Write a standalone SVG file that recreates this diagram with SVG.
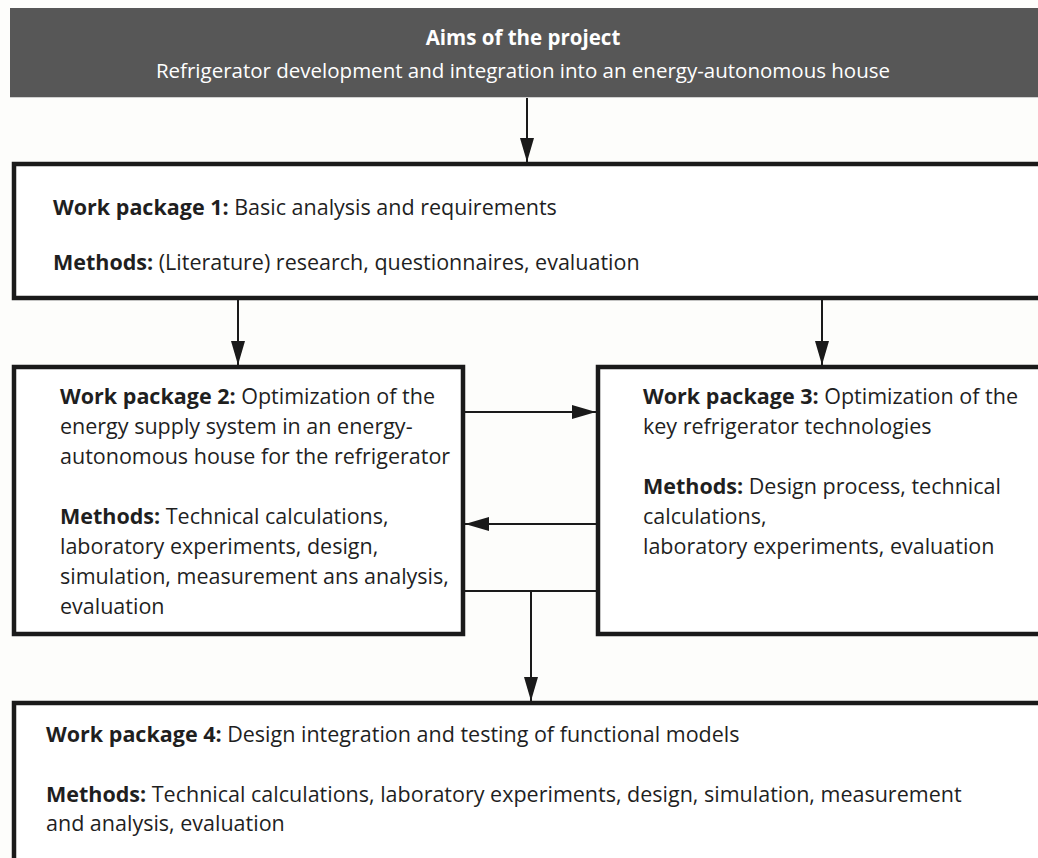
<svg xmlns="http://www.w3.org/2000/svg" width="1038" height="858" viewBox="0 0 1038 858">
  <style>
    .box { fill: #ffffff; stroke: #1a1a1a; stroke-width: 4.5; }
    .txt { font-family: "Open Sans", "Liberation Sans", sans-serif; font-size: 21.5px; fill: #1f1f1f; }
    .b { font-weight: bold; }
    .head { font-family: "Open Sans", "Liberation Sans", sans-serif; font-size: 20.5px; fill: #ffffff; text-anchor: middle; }
    .conn { stroke: #1a1a1a; stroke-width: 2; fill: none; }
  </style>
  <defs>
    <marker id="arrow" markerUnits="userSpaceOnUse" markerWidth="24" markerHeight="14" refX="24" refY="7" orient="auto">
      <path d="M0,0 L24,7 L0,14 Z" fill="#1a1a1a"/>
    </marker>
  </defs>

  <rect x="0" y="0" width="1038" height="858" fill="#fdfdfb"/>

  <!-- Project aims banner -->
  <g id="aims">
    <rect x="10" y="8" width="1028" height="89" fill="#575757"/>
    <line x1="10" y1="97.5" x2="1038" y2="97.5" stroke="#d0d0d0" stroke-width="1"/>
    <text class="head b" x="523" y="45">Aims of the project</text>
    <text class="head" x="523" y="78">Refrigerator development and integration into an energy-autonomous house</text>
  </g>

  <!-- Work package 1 -->
  <g id="wp1">
    <rect class="box" x="14" y="164" width="1040" height="134"/>
    <text class="txt" x="53" y="215"><tspan class="b">Work package 1:</tspan> Basic analysis and requirements</text>
    <text class="txt" x="53" y="270"><tspan class="b">Methods:</tspan> (Literature) research, questionnaires, evaluation</text>
  </g>

  <!-- Work package 2 -->
  <g id="wp2">
    <rect class="box" x="14" y="367" width="449" height="267"/>
    <text class="txt" x="60" y="404"><tspan class="b">Work package 2:</tspan> Optimization of the</text>
    <text class="txt" x="60" y="434">energy supply system in an energy-</text>
    <text class="txt" x="60" y="464">autonomous house for the refrigerator</text>
    <text class="txt" x="60" y="524"><tspan class="b">Methods:</tspan> Technical calculations,</text>
    <text class="txt" x="60" y="554">laboratory experiments, design,</text>
    <text class="txt" x="60" y="584">simulation, measurement ans analysis,</text>
    <text class="txt" x="60" y="614">evaluation</text>
  </g>

  <!-- Work package 3 -->
  <g id="wp3">
    <rect class="box" x="598" y="367" width="456" height="267"/>
    <text class="txt" x="643" y="404"><tspan class="b">Work package 3:</tspan> Optimization of the</text>
    <text class="txt" x="643" y="434">key refrigerator technologies</text>
    <text class="txt" x="643" y="494"><tspan class="b">Methods:</tspan> Design process, technical</text>
    <text class="txt" x="643" y="524">calculations,</text>
    <text class="txt" x="643" y="554">laboratory experiments, evaluation</text>
  </g>

  <!-- Work package 4 -->
  <g id="wp4">
    <rect class="box" x="14" y="703" width="1040" height="170"/>
    <text class="txt" x="46" y="742"><tspan class="b">Work package 4:</tspan> Design integration and testing of functional models</text>
    <text class="txt" x="46" y="802"><tspan class="b">Methods:</tspan> Technical calculations, laboratory experiments, design, simulation, measurement</text>
    <text class="txt" x="46" y="831">and analysis, evaluation</text>
  </g>

  <!-- Connectors -->
  <g id="connectors">
    <line class="conn" x1="527" y1="98" x2="527" y2="162" marker-end="url(#arrow)"/>
    <line class="conn" x1="238" y1="300" x2="238" y2="365" marker-end="url(#arrow)"/>
    <line class="conn" x1="822" y1="300" x2="822" y2="365" marker-end="url(#arrow)"/>
    <line class="conn" x1="465" y1="412" x2="596" y2="412" marker-end="url(#arrow)"/>
    <line class="conn" x1="596" y1="524" x2="465" y2="524" marker-end="url(#arrow)"/>
    <line class="conn" x1="465" y1="591" x2="596" y2="591"/>
    <line class="conn" x1="531" y1="591" x2="531" y2="701" marker-end="url(#arrow)"/>
  </g>
</svg>
